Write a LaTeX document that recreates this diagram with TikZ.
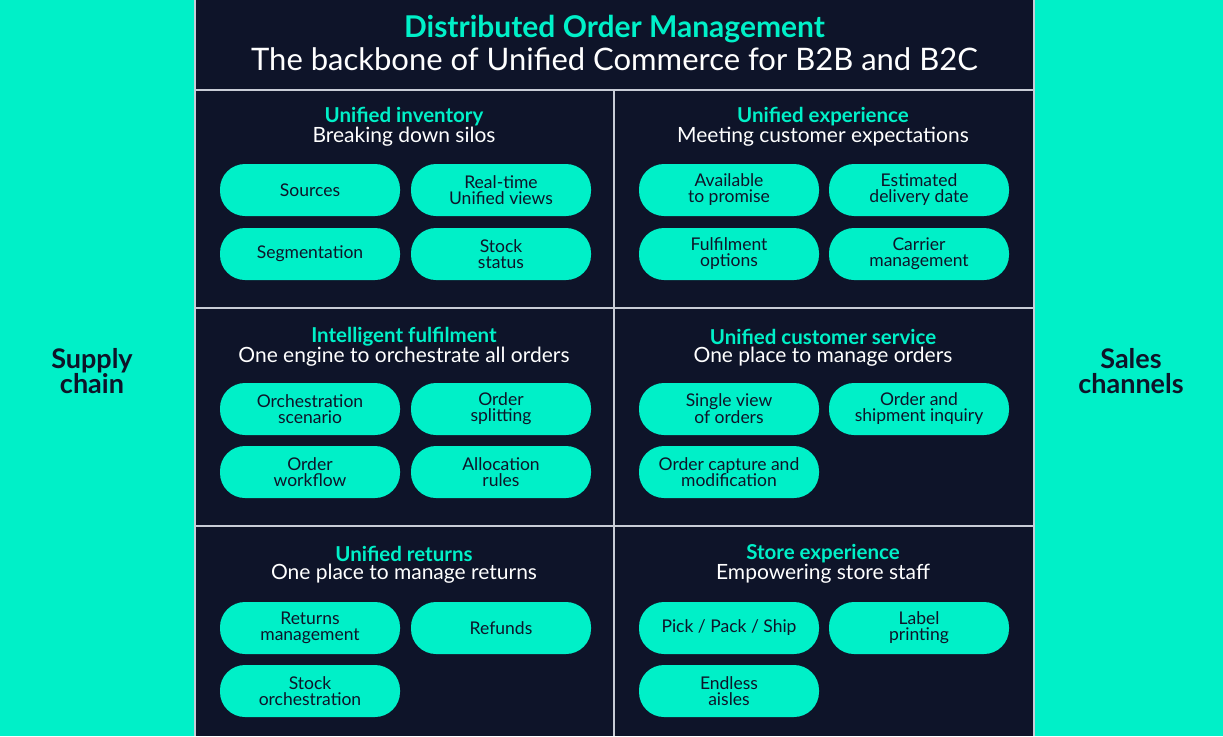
\documentclass[tikz,border=0pt]{standalone}
\usepackage{fontspec}
\setmainfont{Lato}
\definecolor{cy}{HTML}{00F0C8}
\definecolor{dk}{HTML}{0E1429}
\definecolor{ln}{HTML}{C8CCD6}
\begin{document}
\begin{tikzpicture}[x=1pt,y=-1pt,
 pill/.style={fill=cy,rounded corners=25pt,minimum width=180pt,minimum height=52pt,align=center,font=\fontsize{17.5}{16}\selectfont,text=dk,inner sep=0pt},
 ttl/.style={text=cy,font=\fontsize{20.5}{18}\selectfont\bfseries,inner sep=0pt},
 sub/.style={text=white,font=\fontsize{21}{18}\selectfont,inner sep=0pt},
 side/.style={text=dk,font=\fontsize{27}{25}\selectfont\bfseries,align=center,inner sep=0pt}]
\useasboundingbox (0,0) rectangle (1223,736);
\fill[cy] (0,0) rectangle (1223,736);
\fill[dk] (195,0) rectangle (1034,736);
\draw[ln,line width=1.2pt] (195,90) -- (1034,90) (195,308) -- (1034,308) (195,526) -- (1034,526) (614,90) -- (614,736) (195,0)--(195,736) (1034,0)--(1034,736);
\node[text=cy,font=\fontsize{30}{28}\selectfont\bfseries,inner sep=0pt] (h1) at (614.5,29) {Distributed Order Management};
\node[text=white,font=\fontsize{31}{28}\selectfont,inner sep=0pt] (h2) at (614.5,59) {The backbone of Unified Commerce for B2B and B2C};
\node[side] (sc) at (92,371) {Supply\\chain};
\node[side] (sl) at (1131,371) {Sales\\channels};
% sections
\node[ttl] (t1) at (404,117) {Unified inventory};
\node[sub] (s1) at (404,137) {Breaking down silos};
\node[ttl] (t2) at (823,117) {Unified experience};
\node[sub] (s2) at (823,137) {Meeting customer expectations};
\node[ttl] (t3) at (404,337) {Intelligent fulfilment};
\node[sub] (s3) at (404,357) {One engine to orchestrate all orders};
\node[ttl] (t4) at (823,337) {Unified customer service};
\node[sub] (s4) at (823,357) {One place to manage orders};
\node[ttl] (t5) at (404,554) {Unified returns};
\node[sub] (s5) at (404,574) {One place to manage returns};
\node[ttl] (t6) at (823,554) {Store experience};
\node[sub] (s6) at (823,574) {Empowering store staff};
% pills
\node[pill] (p1) at (310,190) {Sources};
\node[pill] (p2) at (501,190) {Real-time\\Unified views};
\node[pill] (p3) at (310,254) {Segmentation};
\node[pill] (p4) at (501,254) {Stock\\status};
\node[pill] (p5) at (729,190) {Available\\to promise};
\node[pill] (p6) at (919,190) {Estimated\\delivery date};
\node[pill] (p7) at (729,254) {Fulfilment\\options};
\node[pill] (p8) at (919,254) {Carrier\\management};
\node[pill] (p9) at (310,409) {Orchestration\\scenario};
\node[pill] (p10) at (501,409) {Order\\splitting};
\node[pill] (p11) at (310,472) {Order\\workflow};
\node[pill] (p12) at (501,472) {Allocation\\rules};
\node[pill] (p13) at (729,409) {Single view\\of orders};
\node[pill] (p14) at (919,409) {Order and\\shipment inquiry};
\node[pill] (p15) at (729,472) {Order capture and\\modification};
\node[pill] (p16) at (310,628) {Returns\\management};
\node[pill] (p17) at (501,628) {Refunds};
\node[pill] (p18) at (310,691) {Stock\\orchestration};
\node[pill] (p19) at (729,628) {Pick / Pack / Ship};
\node[pill] (p20) at (919,628) {Label\\printing};
\node[pill] (p21) at (729,691) {Endless\\aisles};
\end{tikzpicture}
\end{document}
